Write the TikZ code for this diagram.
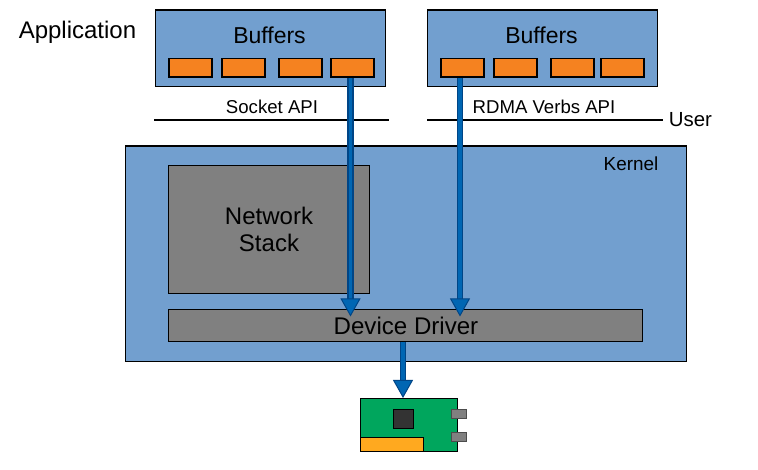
\documentclass[tikz,border=0pt]{standalone}
\usepackage{fontspec}
\setmainfont{Liberation Sans}
\usetikzlibrary{arrows.meta}
\definecolor{panelblue}{HTML}{729FCF}
\definecolor{bufo}{HTML}{F58220}
\definecolor{midgray}{HTML}{808080}
\definecolor{nicgreen}{HTML}{00A65D}
\definecolor{slotyellow}{HTML}{FFA91F}
\definecolor{chipdark}{HTML}{333333}
\definecolor{arrowblue}{HTML}{0066B3}
\definecolor{arrowdark}{HTML}{004586}
\tikzset{
  rect/.style n args={2}{draw=black,line width=1.1pt,inner sep=0pt,anchor=north west,minimum width=#1,minimum height=#2},
  panel/.style={fill=panelblue},
  slotbox/.style={rect={43pt}{18.6pt},fill=bufo,line width=1.8pt},
  graybox/.style={fill=midgray},
  rule/.style={line width=1.8pt,black},
  flow/.style={draw=arrowdark,line width=1.4pt,double=arrowblue,double distance=3.6pt,
    -{Triangle[length=18pt,width=20pt,fill=arrowblue,line width=1pt,color=arrowdark,fill=arrowblue]}},
  txt/.style={inner sep=0pt,text=black},
}
\begin{document}
\begin{tikzpicture}[x=1pt,y=-1pt]
\useasboundingbox (0,0) rectangle (758,470);
\fill[white] (0,0) rectangle (758,470);
% application buffers
\node[rect={230.6pt}{76.6pt},panel] (bufa) at (154.5,9.5) {};
\node[rect={230.6pt}{76.6pt},panel] (bufb) at (426.5,9.5) {};
\node[txt,font=\fontsize{23}{23}\selectfont] (la) at (269.5,35) {Buffers};
\node[txt,font=\fontsize{23}{23}\selectfont] (lb) at (541.5,35) {Buffers};
\node[slotbox] (a1) at (167.7,57.7) {};
\node[slotbox] (a2) at (220.7,57.7) {};
\node[slotbox] (a3) at (277.7,57.7) {};
\node[slotbox] (a4) at (329.7,57.7) {};
\node[slotbox] (b1) at (439.7,57.7) {};
\node[slotbox] (b2) at (492.7,57.7) {};
\node[slotbox] (b3) at (549.7,57.7) {};
\node[slotbox] (b4) at (599.7,57.7) {};
\node[txt,font=\fontsize{24}{24}\selectfont] (app) at (77.5,32) {Application};
\node[txt,font=\fontsize{18.6}{18.6}\selectfont] (sock) at (272,106.5) {Socket API};
\node[txt,font=\fontsize{18.6}{18.6}\selectfont] (rdma) at (544,106.5) {RDMA Verbs API};
\node[txt,font=\fontsize{20.4}{20.4}\selectfont] (user) at (690.5,120) {User};
% separators
\coordinate (r1s) at (154,120);
\coordinate (r1e) at (389,120);
\coordinate (r2s) at (427,120);
\coordinate (r2e) at (663,120);
\draw[rule] (r1s) -- (r1e);
\draw[rule] (r2s) -- (r2e);
% kernel
\node[rect={561.6pt}{215.6pt},panel] (kern) at (124.6,145.5) {};
\node[txt,font=\fontsize{18.9}{18.9}\selectfont] (kl) at (631,163.5) {Kernel};
\node[rect={201.6pt}{128.6pt},graybox] (net) at (167.6,164.6) {};
\node[txt,align=center,font=\fontsize{24}{27}\selectfont] (netl) at (269,229) {Network\\Stack};
\node[rect={474.6pt}{32.6pt},graybox] (dd) at (167.6,308.6) {};
% NIC
\node[rect={96.6pt}{52.6pt},fill=nicgreen,line width=1pt] (nic) at (360,398) {};
\node[rect={19.6pt}{19.2pt},fill=chipdark,line width=1pt] (chip) at (393,409) {};
\node[rect={62.6pt}{13.6pt},fill=slotyellow,line width=1pt] (slot) at (360,437) {};
\node[rect={14.6pt}{9.2pt},fill=midgray,draw=black!70,line width=1pt] (p1) at (451,409) {};
\node[rect={14.6pt}{9.2pt},fill=midgray,draw=black!70,line width=1pt] (p2) at (451,431.5) {};
% flows
\coordinate (t1) at (350.5,316.5);
\coordinate (t2) at (460,316.5);
\coordinate (t3) at (403,398);
\draw[flow] (t1|-a4.south) -- (t1);
\draw[flow] (t2|-b1.south) -- (t2);
\draw[flow] (t3|-dd.south) -- (t3);
\node[txt,font=\fontsize{24.1}{24.1}\selectfont] (ddl) at (406,325.5) {Device Driver};
\end{tikzpicture}
\end{document}
